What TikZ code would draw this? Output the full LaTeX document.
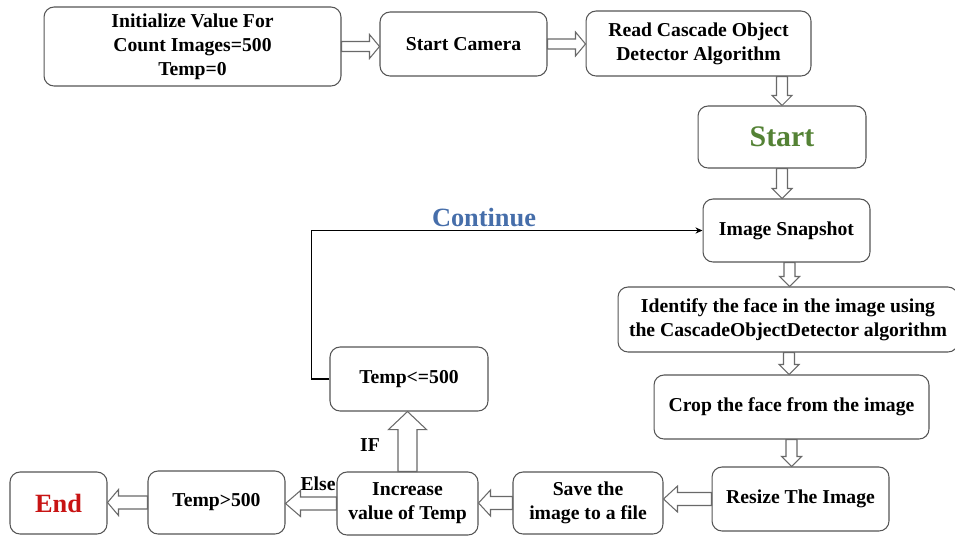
\documentclass[tikz,border=0pt]{standalone}
\usepackage{fontspec}
\setmainfont{Liberation Serif}
\usetikzlibrary{calc,arrows.meta}

\definecolor{boxgray}{RGB}{85,85,85}
\definecolor{arrgray}{RGB}{105,105,105}
\definecolor{startgreen}{RGB}{84,130,53}
\definecolor{endred}{RGB}{200,20,20}
\definecolor{contblue}{RGB}{70,110,170}

\tikzset{
  box/.style={draw=boxgray, line width=0.6pt, rounded corners=0.2cm, align=center,
    inner sep=2pt, font=\fontsize{11.2}{13.6}\selectfont\bfseries},
  blockarr/.style={draw=arrgray, line width=0.6pt, fill=white, line join=miter},
  lbl/.style={font=\fontsize{11.2}{13.6}\selectfont\bfseries, inner sep=1pt},
}

% hollow block arrow: tail, tip, shaft half-width, head half-width, head length
\newcommand{\blockarrow}[5]{%
  \path #1 coordinate (ba-t) #2 coordinate (ba-h);
  \path ($(ba-h)!#5!(ba-t)$) coordinate (ba-b);
  \draw[blockarr] ($(ba-t)!#3!90:(ba-h)$) -- ($(ba-b)!#3!90:(ba-h)$)
    -- ($(ba-b)!#4!90:(ba-h)$) -- (ba-h) -- ($(ba-b)!#4!-90:(ba-h)$)
    -- ($(ba-b)!#3!-90:(ba-h)$) -- ($(ba-t)!#3!-90:(ba-h)$) -- cycle;
}

\begin{document}
\begin{tikzpicture}[x=0.02cm, y=-0.02cm]
\useasboundingbox (0,0) rectangle (955,535);

% top row
\node[box, minimum width=5.94cm, minimum height=1.58cm] (init) at (192.5,46.5)
  {Initialize Value For\\Count Images=500\\Temp=0};
\node[box, minimum width=3.34cm, minimum height=1.28cm] (cam) at (463.5,44)
  {Start Camera};
\node[box, minimum width=4.5cm, minimum height=1.3cm] (read) at (698.5,43.5)
  {Read Cascade Object\\Detector Algorithm};

% right column
\node[box, minimum width=3.36cm, minimum height=1.24cm,
      font=\fontsize{17}{20}\selectfont\bfseries, text=startgreen] (start) at (782,137)
  {Start};
\node[box, minimum width=3.34cm, minimum height=1.26cm] (snap) at (786.5,230.5)
  {Image Snapshot};
\node[box, minimum width=6.8cm, minimum height=1.3cm] (ident) at (788,319.5)
  {Identify the face in the image using\\the CascadeObjectDetector algorithm};
\node[box, minimum width=5.5cm, minimum height=1.28cm] (crop) at (791.5,407)
  {Crop the face from the image};
\node[box, minimum width=3.54cm, minimum height=1.28cm] (resize) at (800.5,499)
  {Resize The Image};

% bottom row
\node[box, minimum width=3.0cm, minimum height=1.24cm] (save) at (588,503)
  {Save the\\image to a file};
\node[box, minimum width=2.82cm, minimum height=1.26cm] (inc) at (407.5,503.5)
  {Increase\\value of Temp};
\node[box, minimum width=2.74cm, minimum height=1.26cm] (gt) at (216.5,502.5)
  {Temp>500};
\node[box, minimum width=1.94cm, minimum height=1.24cm,
      font=\fontsize{15}{18}\selectfont\bfseries, text=endred] (end) at (58.5,503)
  {End};

% loop test
\node[box, minimum width=3.16cm, minimum height=1.28cm] (le) at (409,379)
  {Temp<=500};

% labels
\node[lbl] (iflbl) at (370,445) {IF};
\node[lbl] (elselbl) at (318,484) {Else};
\node[font=\fontsize{15}{18}\selectfont\bfseries, text=contblue] (cont) at (484,218) {Continue};

% block arrows along the top
\blockarrow{(init.east)}{(init.east -| cam.west)}{0.1cm}{0.24cm}{0.2cm}
\blockarrow{(cam.east)}{(cam.east -| read.west)}{0.1cm}{0.24cm}{0.2cm}
\blockarrow{(start.north |- read.south)}{(start.north)}{0.11cm}{0.2cm}{0.2cm}
\blockarrow{(start.south)}{(start.south |- snap.north)}{0.11cm}{0.2cm}{0.2cm}
\blockarrow{([xshift=0.06cm]snap.south)}{([xshift=0.06cm]snap.south |- ident.north)}{0.11cm}{0.2cm}{0.2cm}
\blockarrow{([xshift=0.02cm]ident.south)}{([xshift=0.02cm]ident.south |- crop.north)}{0.11cm}{0.2cm}{0.2cm}
\blockarrow{(crop.south)}{(crop.south |- resize.north)}{0.11cm}{0.2cm}{0.2cm}

% block arrows along the bottom
\blockarrow{(resize.west)}{(resize.west -| save.east)}{0.13cm}{0.26cm}{0.28cm}
\blockarrow{(save.west)}{(save.west -| inc.east)}{0.13cm}{0.26cm}{0.24cm}
\blockarrow{(inc.west)}{(inc.west -| gt.east)}{0.13cm}{0.26cm}{0.3cm}
\blockarrow{(gt.west)}{(gt.west -| end.east)}{0.13cm}{0.26cm}{0.22cm}
\blockarrow{(inc.north)}{(inc.north |- le.south)}{0.19cm}{0.38cm}{0.36cm}

% continue loop back to the snapshot
\draw[line width=0.6pt, -{Stealth[length=4pt,width=3.5pt]}]
  (le.west) -- ++(-18,0) |- (snap.west);

\end{tikzpicture}
\end{document}
